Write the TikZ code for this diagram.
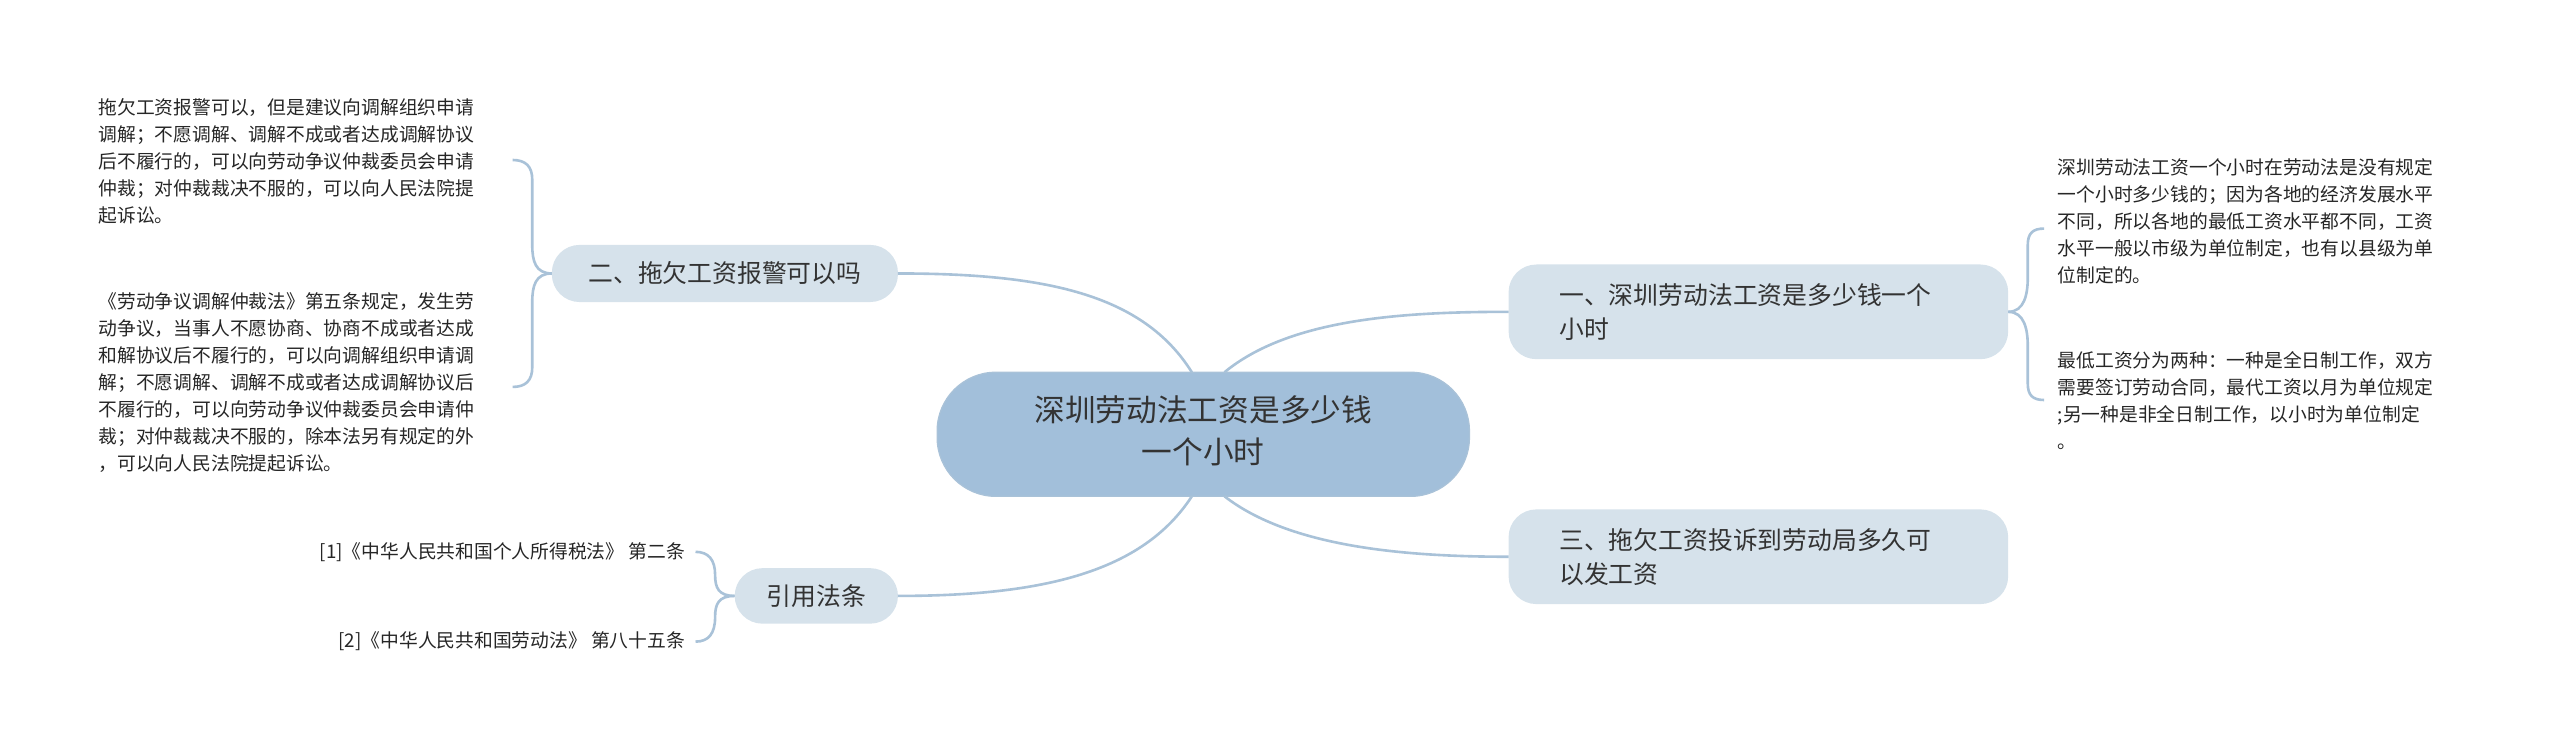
\documentclass[tikz,border=0pt]{standalone}
\usepackage{fontspec}
\setmainfont{Noto Sans CJK SC}
\begin{document}
\begin{tikzpicture}[x=0.5pt,y=-0.5pt,
  line/.style={draw=lk,line width=0.8pt},
  topic/.style={fill=tb,rounded corners=8.5pt},
  ttext/.style={font=\fontsize{7.6}{10.5}\selectfont,text=black!80,align=left},
  leaf/.style={font=\fontsize{5.75}{8.25}\selectfont,text=black!85,inner sep=0pt}]
\definecolor{lk}{HTML}{A9C2D8}
\definecolor{tb}{HTML}{D6E2EB}
\definecolor{cb}{HTML}{A2BFDA}
\useasboundingbox (0,0) rectangle (1568,460);
% center
\draw[fill=cb,draw=lk,rounded corners=18pt] (574,228) rectangle (900,304);
\node (c) at (737,266) {\fontsize{9.4}{12.8}\selectfont\color{black!80}\begin{tabular}{c}深圳劳动法工资是多少钱\\一个小时\end{tabular}};
% topics
\fill[topic] (338,150) rectangle (550,185); \node[ttext] (l1) at (444,167.5) {二、拖欠工资报警可以吗};
\fill[topic] (450,348) rectangle (550,382); \node[ttext] (l2) at (500,365) {引用法条};
\fill[topic] (924,162) rectangle (1230,220); \node[ttext,anchor=west] (r1) at (948,191) {一、深圳劳动法工资是多少钱一个\\小时};
\fill[topic] (924,312) rectangle (1230,370); \node[ttext,anchor=west] (r2) at (948,341) {三、拖欠工资投诉到劳动局多久可\\以发工资};
% connectors
\coordinate (ct) at (730,228); \coordinate (cbm) at (730,304);
\coordinate (ctr) at (750,228); \coordinate (cbr) at (750,304);
\draw[line] (ct) .. controls (700,180) and (640,167.5) .. (550,167.5);
\draw[line] (cbm) .. controls (700,350) and (640,365) .. (550,365);
\draw[line] (ctr) .. controls (790,195) and (860,191) .. (924,191);
\draw[line] (cbr) .. controls (790,335) and (860,341) .. (924,341);
% leaves
\node[leaf,anchor=north west,align=left] (a1) at (60,60) {拖欠工资报警可以，但是建议向调解组织申请\\调解；不愿调解、调解不成或者达成调解协议\\后不履行的，可以向劳动争议仲裁委员会申请\\仲裁；对仲裁裁决不服的，可以向人民法院提\\起诉讼。};
\node[leaf,anchor=north west,align=left] (a2) at (60,179) {《劳动争议调解仲裁法》第五条规定，发生劳\\动争议，当事人不愿协商、协商不成或者达成\\和解协议后不履行的，可以向调解组织申请调\\解；不愿调解、调解不成或者达成调解协议后\\不履行的，可以向劳动争议仲裁委员会申请仲\\裁；对仲裁裁决不服的，除本法另有规定的外\\，可以向人民法院提起诉讼。};
\node[leaf,anchor=east] (b1) at (420,338) {[1]《中华人民共和国个人所得税法》 第二条};
\node[leaf,anchor=east] (b2) at (420,393) {[2]《中华人民共和国劳动法》 第八十五条};
\node[leaf,anchor=north west,align=left] (d1) at (1260,97) {深圳劳动法工资一个小时在劳动法是没有规定\\一个小时多少钱的；因为各地的经济发展水平\\不同，所以各地的最低工资水平都不同，工资\\水平一般以市级为单位制定，也有以县级为单\\位制定的。};
\node[leaf,anchor=north west,align=left] (d2) at (1260,215) {最低工资分为两种：一种是全日制工作，双方\\需要签订劳动合同，最代工资以月为单位规定\\;另一种是非全日制工作，以小时为单位制定\\。};
% brackets
\draw[line] (338,167.5) .. controls (328,167.5) and (326,160) .. (326,150) -- (326,110) .. controls (326,102) and (322,98) .. (314,98);
\draw[line] (338,167.5) .. controls (328,167.5) and (326,175) .. (326,185) -- (326,225) .. controls (326,233) and (322,237) .. (314,237);
\draw[line] (450,365) .. controls (440,365) and (438,360) .. (438,352) .. controls (438,343) and (434,338) .. (426,338);
\draw[line] (450,365) .. controls (440,365) and (438,370) .. (438,378) .. controls (438,388) and (434,393) .. (426,393);
\draw[line] (1230,191) .. controls (1240,191) and (1242,180) .. (1242,170) -- (1242,150) .. controls (1242,143) and (1245,140) .. (1252,140);
\draw[line] (1230,191) .. controls (1240,191) and (1242,202) .. (1242,212) -- (1242,235) .. controls (1242,242) and (1245,245) .. (1252,245);
\end{tikzpicture}
\end{document}
